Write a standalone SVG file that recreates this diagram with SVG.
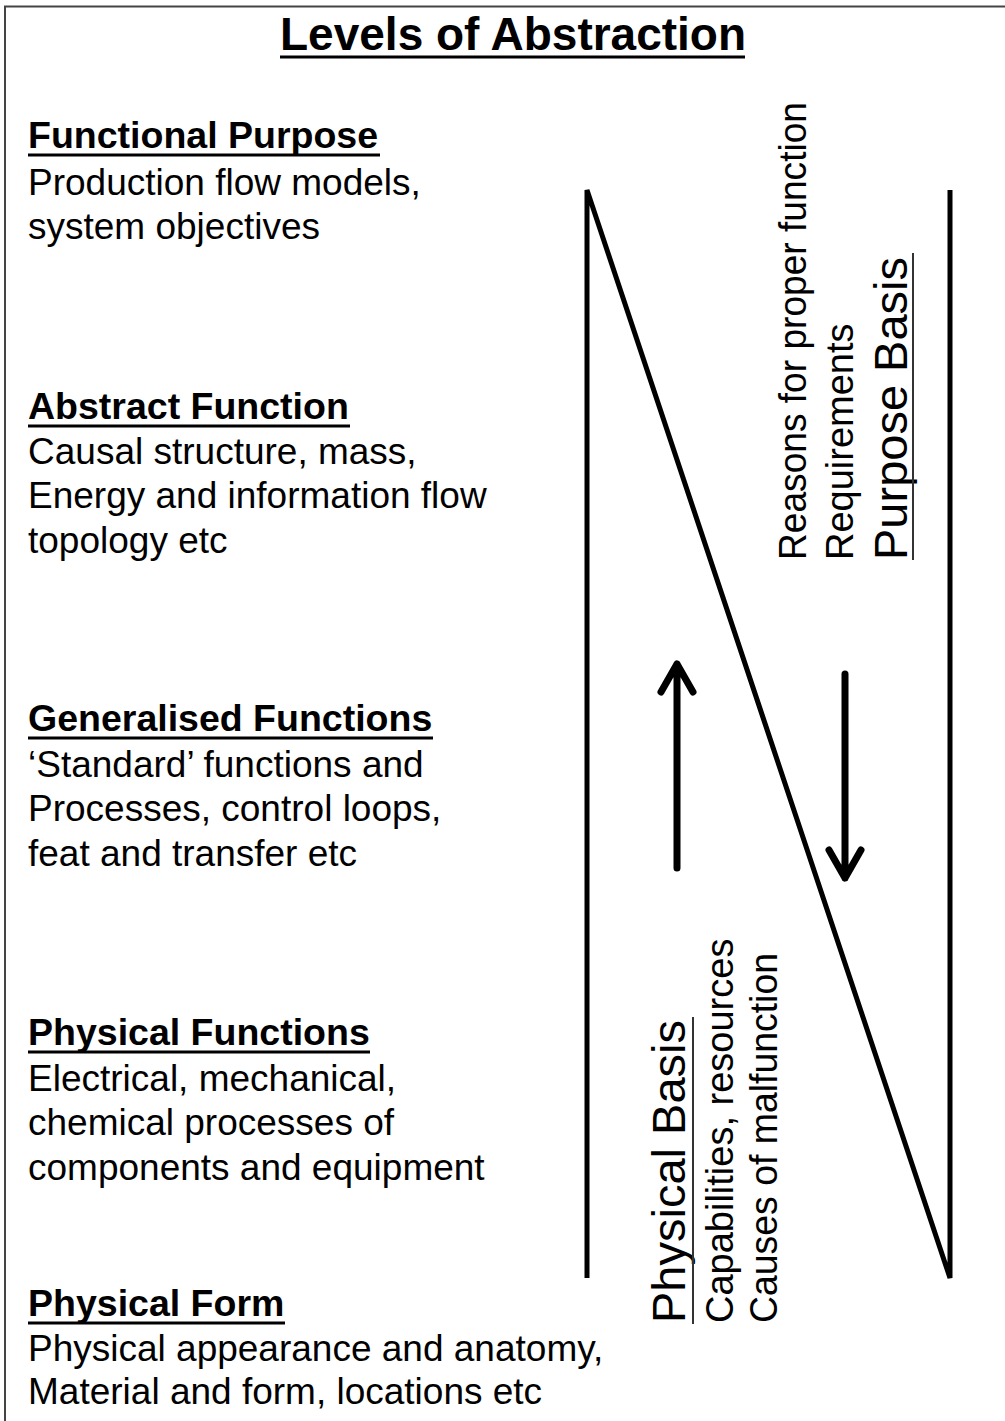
<svg xmlns="http://www.w3.org/2000/svg" width="1005" height="1421" viewBox="0 0 1005 1421">
<defs>
<style>
text{font-family:"Liberation Sans",Arial,sans-serif;fill:#000}
.title{font-size:46px;font-weight:bold}
.head{font-size:37.5px;font-weight:bold}
.body{font-size:37px}
.big{font-size:47px}
.med{font-size:38px}
.ul{stroke:#000;stroke-width:3}
.ulg{stroke:#333;stroke-width:2}
.shape{fill:none;stroke:#000;stroke-width:5;stroke-linejoin:miter}
.arr{fill:none;stroke:#000;stroke-width:7;stroke-linecap:round;stroke-linejoin:round}
</style>
</defs>
<rect x="0" y="0" width="1005" height="1421" fill="#fff"/>
<rect x="5" y="6.5" width="1010" height="1430" fill="none" stroke="#444" stroke-width="2"/>

<g id="title">
<text class="title" x="280" y="50">Levels of Abstraction</text>
<line class="ul" x1="280" y1="57" x2="745" y2="57"/>
</g>

<g id="functional-purpose">
<text class="head" x="28" y="148">Functional Purpose</text>
<line class="ul" x1="28" y1="155" x2="380" y2="155"/>
<text class="body" x="28" y="195">Production flow models,</text>
<text class="body" x="28" y="239">system objectives</text>
</g>

<g id="abstract-function">
<text class="head" x="28" y="419">Abstract Function</text>
<line class="ul" x1="28" y1="426" x2="350" y2="426"/>
<text class="body" x="28" y="464">Causal structure, mass,</text>
<text class="body" x="28" y="508">Energy and information flow</text>
<text class="body" x="28" y="553">topology etc</text>
</g>

<g id="generalised-functions">
<text class="head" x="28" y="731">Generalised Functions</text>
<line class="ul" x1="28" y1="738" x2="433" y2="738"/>
<text class="body" x="28" y="777">‘Standard’ functions and</text>
<text class="body" x="28" y="821">Processes, control loops,</text>
<text class="body" x="28" y="866">feat and transfer etc</text>
</g>

<g id="physical-functions">
<text class="head" x="28" y="1045">Physical Functions</text>
<line class="ul" x1="28" y1="1052" x2="370" y2="1052"/>
<text class="body" x="28" y="1091">Electrical, mechanical,</text>
<text class="body" x="28" y="1135">chemical processes of</text>
<text class="body" x="28" y="1180">components and equipment</text>
</g>

<g id="physical-form">
<text class="head" x="28" y="1316">Physical Form</text>
<line class="ul" x1="28" y1="1323" x2="285" y2="1323"/>
<text class="body" x="28" y="1361">Physical appearance and anatomy,</text>
<text class="body" x="28" y="1404">Material and form, locations etc</text>
</g>

<g id="connectors">
<path class="shape" d="M587,1278 L587,190 L950,1278 L950,190"/>
<path class="arr" d="M677,868 L677,664 M661,692 L677,664 L693,692"/>
<path class="arr" d="M845,674 L845,878 M829,850 L845,878 L861,850"/>
</g>

<g id="purpose-basis">
<text class="med" transform="translate(806,560) rotate(-90)" textLength="458" lengthAdjust="spacingAndGlyphs">Reasons for proper function</text>
<text class="med" transform="translate(853,560) rotate(-90)">Requirements</text>
<text class="big" transform="translate(907,560) rotate(-90)">Purpose Basis</text>
<line class="ulg" x1="913" y1="253" x2="913" y2="560"/>
</g>

<g id="physical-basis">
<text class="big" transform="translate(685,1323) rotate(-90)">Physical Basis</text>
<line class="ulg" x1="693" y1="1017" x2="693" y2="1324"/>
<text class="med" transform="translate(733,1323) rotate(-90)">Capabilities, resources</text>
<text class="med" transform="translate(777,1323) rotate(-90)" textLength="370" lengthAdjust="spacingAndGlyphs">Causes of malfunction</text>
</g>
</svg>
